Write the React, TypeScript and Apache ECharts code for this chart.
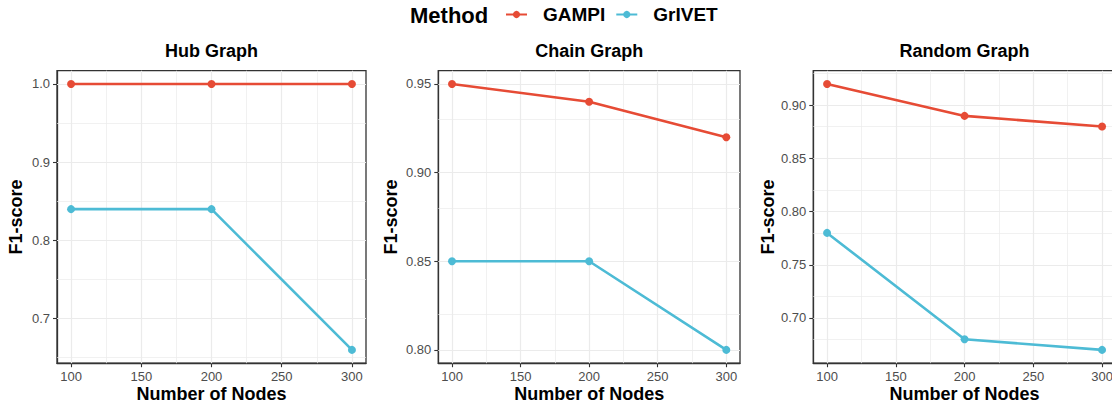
import React, { useEffect, useRef } from "react";
import * as echarts from "echarts";

// ---- data ----
const nodes = [100, 200, 300];
const hubGAMPI = [1.0, 1.0, 1.0];
const hubGrIVET = [0.84, 0.84, 0.66];
const chainGAMPI = [0.95, 0.94, 0.92];
const chainGrIVET = [0.85, 0.85, 0.8];
const randomGAMPI = [0.92, 0.89, 0.88];
const randomGrIVET = [0.78, 0.68, 0.67];

const methods = ["GAMPI", "GrIVET"];
const panelTitles = ["Hub Graph", "Chain Graph", "Random Graph"];
const xTitle = "Number of Nodes";
const yTitle = "F1-score";

// ---- tick labels / gridlines ----
const xTicks = [100, 150, 200, 250, 300];
const xMinor = [125, 175, 225, 275];
const hubYTicks = [0.7, 0.8, 0.9, 1.0];
const hubYMinor = [0.65, 0.75, 0.85, 0.95];
const chainYTicks = [0.8, 0.85, 0.9, 0.95];
const chainYMinor = [0.825, 0.875, 0.925];
const randomYTicks = [0.7, 0.75, 0.8, 0.85, 0.9];
const randomYMinor = [0.675, 0.725, 0.775, 0.825, 0.875, 0.925];

const FONT = "'Liberation Sans', Arial, Helvetica, sans-serif";
const COLORS = ["#E64B35", "#4DBBD5"];

const panels = [
  { title: panelTitles[0], series: [hubGAMPI, hubGrIVET], yTicks: hubYTicks, yMinor: hubYMinor, dec: 1,
    left: 57, width: 309, nameGap: 32 },
  { title: panelTitles[1], series: [chainGAMPI, chainGrIVET], yTicks: chainYTicks, yMinor: chainYMinor, dec: 2,
    left: 438.3, width: 301.7, nameGap: 38 },
  { title: panelTitles[2], series: [randomGAMPI, randomGrIVET], yTicks: randomYTicks, yMinor: randomYMinor, dec: 2,
    left: 813.3, width: 302.5, nameGap: 36 },
];

const GRID_TOP = 70.7;
const GRID_H = 292.5;

function expand(vals: number[]) {
  const lo = Math.min(...vals);
  const hi = Math.max(...vals);
  const pad = (hi - lo) * 0.05;
  return [lo - pad, hi + pad];
}

export default function App() {
  const ref = useRef<HTMLDivElement>(null);
  useEffect(() => {
    if (!ref.current) return;
    const chart = echarts.init(ref.current, undefined, { renderer: "svg" });
    const [xMin, xMax] = expand(nodes);

    const grid: any[] = [];
    const xAxis: any[] = [];
    const yAxis: any[] = [];
    const series: any[] = [];
    const graphic: any[] = [];

    panels.forEach((p, i) => {
      const [yMin, yMax] = expand([...p.series[0], ...p.series[1]]);
      grid.push({
        left: p.left, top: GRID_TOP, width: p.width, height: GRID_H,
        show: true, borderColor: "#333333", borderWidth: 1.3, backgroundColor: "transparent",
        containLabel: false, outerBoundsMode: "none",
      });
      xAxis.push({
        type: "value", gridIndex: i, min: xMin, max: xMax,
        axisLine: { show: true, lineStyle: { color: "#333333", width: 1.3 } },
        axisTick: { show: true, customValues: xTicks, length: 4, lineStyle: { color: "#333333", width: 1.1 } },
        axisLabel: { customValues: xTicks, fontSize: 13, color: "#4D4D4D", margin: 7, fontFamily: FONT },
        splitLine: { show: false },
      });
      yAxis.push({
        type: "value", gridIndex: i, min: yMin, max: yMax,
        axisLine: { show: true, lineStyle: { color: "#333333", width: 1.3 } },
        axisTick: { show: true, customValues: p.yTicks, length: 4, lineStyle: { color: "#333333", width: 1.1 } },
        axisLabel: {
          customValues: p.yTicks, fontSize: 13, color: "#4D4D4D", margin: 7, fontFamily: FONT,
          formatter: (v: number) => v.toFixed(p.dec),
        },
        splitLine: { show: false },
        name: yTitle, nameLocation: "middle", nameGap: p.nameGap, nameRotate: 90,
        nameTextStyle: { fontSize: 18, fontWeight: "bold", color: "#000", fontFamily: FONT },
      });
      // gridlines
      const glData: any[] = [];
      p.yMinor.forEach((v) => glData.push({ yAxis: v, lineStyle: { width: 0.7 } }));
      xMinor.forEach((v) => glData.push({ xAxis: v, lineStyle: { width: 0.7 } }));
      p.yTicks.forEach((v) => glData.push({ yAxis: v, lineStyle: { width: 1.2 } }));
      xTicks.forEach((v) => glData.push({ xAxis: v, lineStyle: { width: 1.2 } }));
      series.push({
        type: "line", xAxisIndex: i, yAxisIndex: i, data: [], silent: true, z: 1,
        markLine: {
          silent: true, symbol: ["none", "none"], label: { show: false },
          lineStyle: { color: "#EBEBEB", type: "solid" },
          emphasis: { disabled: true },
          data: glData,
        },
      });
      p.series.forEach((vals, k) => {
        series.push({
          type: "line", name: methods[k], xAxisIndex: i, yAxisIndex: i, z: 5,
          data: nodes.map((n, j) => [n, vals[j]]),
          symbol: "circle", symbolSize: 8, showSymbol: true,
          lineStyle: { color: COLORS[k], width: 2.6 },
          itemStyle: { color: COLORS[k] },
          emphasis: { disabled: true },
        });
      });
      graphic.push({
        type: "text", x: p.left + p.width / 2, y: 51,
        style: {
          text: p.title, fontSize: 18, fontWeight: "bold", fontFamily: FONT, fill: "#000",
          align: "center", verticalAlign: "middle", textAlign: "center", textVerticalAlign: "middle",
        },
      });
      graphic.push({
        type: "text", x: p.left + p.width / 2, y: 393.5,
        style: {
          text: xTitle, fontSize: 18, fontWeight: "bold", fontFamily: FONT, fill: "#000",
          align: "center", verticalAlign: "middle", textAlign: "center", textVerticalAlign: "middle",
        },
      });
    });

    graphic.push({
      type: "text", x: 410, y: 15,
      style: {
        text: "Method", fontSize: 22, fontWeight: "bold", fontFamily: FONT, fill: "#000",
        align: "left", verticalAlign: "middle", textAlign: "left", textVerticalAlign: "middle",
      },
    });

    chart.setOption({
      animation: false,
      grid, xAxis, yAxis, series, graphic,
      legend: {
        data: methods, left: 505, top: 5, padding: 0, itemWidth: 21, itemHeight: 9, itemGap: 10,
        textStyle: { fontSize: 19, fontWeight: "bold", color: "#000", fontFamily: FONT, padding: [0, 0, 0, 11] },
        selectedMode: false,
      },
    });
    return () => chart.dispose();
  }, []);

  return (
    <div
      ref={ref}
      style={{ position: "fixed", left: 0, top: 0, width: 1112, height: 404, background: "#fff", overflow: "hidden" }}
    />
  );
}
